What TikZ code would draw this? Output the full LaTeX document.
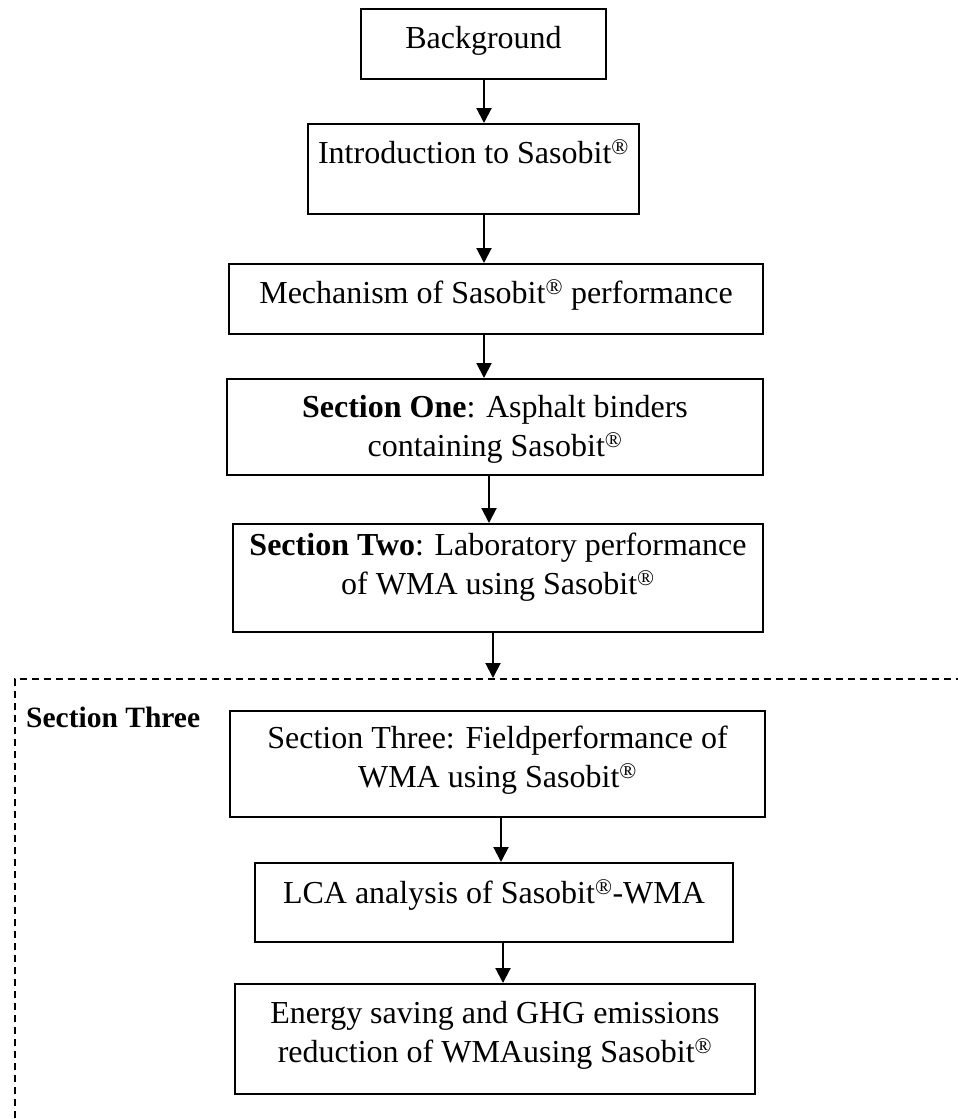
\documentclass[tikz,border=0pt]{standalone}
\usepackage{fontspec}
\setmainfont{Liberation Serif}
\usetikzlibrary{arrows.meta}
\newcommand{\sreg}{\textsuperscript{\textregistered}}
\newcommand{\firstline}{\rule{0pt}{28pt}}
\tikzset{
  box/.style={draw=black, line width=2pt, rectangle, inner sep=0pt, anchor=north west},
  txt/.style={font=\fontsize{32}{39}\selectfont, align=center, inner sep=0pt, anchor=north},
  arr/.style={line width=2pt, -{Triangle[length=15pt,width=15pt]}},
  frame/.style={draw=black, line width=1.5pt, dash pattern=on 7pt off 5pt, rectangle, inner sep=0pt, anchor=north west},
}
\begin{document}
\begin{tikzpicture}[x=1pt,y=-1pt]
\useasboundingbox (0,0) rectangle (958,1119);
\clip (0,0) rectangle (958,1119);
% dashed frame of section three
\node[frame, minimum width=1000pt, minimum height=520pt] (s3frame) at (14,678) {};
\node[font=\fontsize{29.5}{36}\selectfont\bfseries, inner sep=0pt, anchor=base west] (s3label) at (26,727) {Section Three};
% boxes
\node[box, minimum width=245pt, minimum height=70pt] (b1) at (360,8) {};
\node[box, minimum width=331pt, minimum height=90pt] (b2) at (307,123) {};
\node[box, minimum width=534pt, minimum height=70pt] (b3) at (228,263) {};
\node[box, minimum width=536pt, minimum height=96pt] (b4) at (226,378) {};
\node[box, minimum width=530pt, minimum height=108pt] (b5) at (232,523) {};
\node[box, minimum width=535pt, minimum height=106pt] (b6) at (229,710) {};
\node[box, minimum width=478pt, minimum height=79pt] (b7) at (254,862) {};
\node[box, minimum width=520pt, minimum height=110pt] (b8) at (234,983) {};
% texts
\node[txt] (t1) at ([yshift=-12pt]b1.north) {\firstline Background};
\node[txt] (t2) at ([yshift=-12pt]b2.north) {\firstline Introduction to Sasobit\sreg};
\node[txt] (t3) at ([yshift=-12pt]b3.north) {\firstline Mechanism of Sasobit\sreg{} performance};
\node[txt] (t4) at ([yshift=-11pt]b4.north) {\firstline\textbf{Section One}: Asphalt binders\\containing Sasobit\sreg};
\node[txt] (t5) at ([yshift=-4pt]b5.north) {\firstline\textbf{Section Two}: Laboratory performance\\of WMA using Sasobit\sreg};
\node[txt] (t6) at ([yshift=-10pt]b6.north) {\firstline Section Three: Fieldperformance of\\WMA using Sasobit\sreg};
\node[txt] (t7) at ([yshift=-13pt]b7.north) {\firstline LCA analysis of Sasobit\sreg-WMA};
\node[txt] (t8) at ([yshift=-12pt]b8.north) {\firstline Energy saving and GHG emissions\\reduction of WMAusing Sasobit\sreg};
% connectors
\draw[arr] ([xshift=0.5pt]b1.south) -- ([xshift=0.5pt]b1.south |- b2.north);
\draw[arr] ([xshift=10.5pt]b2.south) -- ([xshift=10.5pt]b2.south |- b3.north);
\draw[arr] ([xshift=-12pt]b3.south) -- ([xshift=-12pt]b3.south |- b4.north);
\draw[arr] ([xshift=-6pt]b4.south) -- ([xshift=-6pt]b4.south |- b5.north);
\draw[arr] ([xshift=-5pt]b5.south) -- ([xshift=-5pt]b5.south |- s3frame.north);
\draw[arr] ([xshift=3.5pt]b6.south) -- ([xshift=3.5pt]b6.south |- b7.north);
\draw[arr] ([xshift=9pt]b7.south) -- ([xshift=9pt]b7.south |- b8.north);
\end{tikzpicture}
\end{document}
